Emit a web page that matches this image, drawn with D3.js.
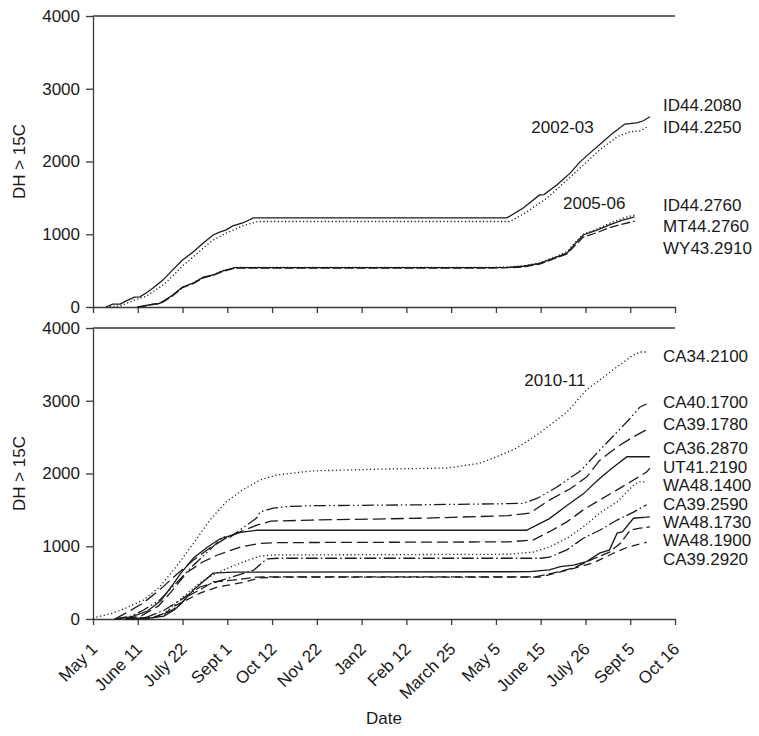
<!DOCTYPE html>
<html>
<head>
<meta charset="utf-8">
<script src="https://cdn.jsdelivr.net/npm/d3@7"></script>
<style>
  body { margin: 0; background: #fff; }
  text { font-family: Arial, "Liberation Sans", sans-serif; fill: #1a1a1a; }
</style>
</head>
<body>
<svg class="chart"></svg>
<script>
// x axis: days since May 1 of the first year, ticks every 41 days
const tickDays = [0, 41, 82, 123, 164, 205, 246, 287, 328, 369, 410, 451, 492, 533];
const tickLabels = ['May 1', 'June 11', 'July 22', 'Sept 1', 'Oct 12', 'Nov 22', 'Jan2',
    'Feb 12', 'March 25', 'May 5', 'June 15', 'July 26', 'Sept 5', 'Oct 16'];
const yTicks = [0, 1000, 2000, 3000, 4000];

// top panel, [day, DH > 15C]
const id44_2080 = [[12,0],[18,40],[25,40],[30,80],[38,135],[43,140],[49,195],[55,260],[64,370],[73,510],
    [82,645],[92,760],[101,880],[110,990],[116,1030],[122,1060],[128,1115],[137,1155],[147,1225],
    [379,1225],[394,1360],[409,1540],[413,1545],[425,1680],[437,1840],[446,1995],[455,2115],
    [467,2270],[476,2390],[487,2515],[498,2530],[504,2560],[510,2615]];
const id44_2250 = [[12,0],[25,15],[38,95],[49,150],[64,300],[73,425],[82,565],[92,690],[101,810],
    [110,920],[122,1015],[137,1115],[151,1175],[382,1175],[397,1305],[416,1500],[434,1745],
    [449,1950],[464,2160],[480,2340],[492,2410],[501,2420],[508,2480]];
const id44_2760 = [[41,0],[46,15],[55,40],[61,50],[66,95],[73,165],[82,275],[92,330],[101,410],
    [110,440],[119,495],[130,540],[364,540],[380,545],[394,560],[409,600],[425,690],[434,740],
    [443,895],[449,990],[462,1060],[473,1130],[485,1195],[496,1240]];
const mt44_2760 = [[41,0],[46,10],[55,35],[61,50],[66,90],[73,160],[82,270],[92,335],[101,405],
    [110,445],[119,500],[130,545],[364,545],[380,550],[394,565],[409,605],[425,700],[434,760],
    [443,910],[449,1000],[462,1075],[473,1150],[485,1220],[496,1265]];
const wy43_2910 = [[41,0],[46,10],[55,35],[61,45],[66,85],[73,155],[82,265],[92,325],[101,400],
    [110,435],[119,490],[130,535],[364,535],[380,540],[394,550],[409,590],[425,680],[434,730],
    [443,870],[449,960],[462,1025],[473,1090],[485,1140],[496,1180]];

// bottom panel, 2010-11
const ca34_2100 = [[0,0],[3,25],[18,80],[30,150],[46,260],[61,440],[76,715],[92,1040],[107,1360],
    [122,1610],[137,1775],[153,1910],[168,1980],[183,2005],[200,2035],[263,2060],[324,2075],
    [354,2140],[373,2250],[388,2350],[409,2555],[434,2845],[452,3150],[464,3285],[480,3465],
    [495,3630],[501,3670],[507,3670]];
const ca40_1700 = [[20,0],[35,40],[46,120],[61,260],[76,490],[92,740],[107,950],[119,1130],[126,1130],
    [137,1250],[150,1390],[153,1470],[165,1525],[177,1545],[200,1557],[300,1570],[380,1585],
    [394,1590],[407,1660],[425,1815],[437,1940],[446,2030],[464,2320],[480,2570],[492,2760],
    [501,2915],[507,2955]];
const ca39_1780 = [[20,0],[30,80],[46,220],[61,400],[76,605],[92,810],[107,975],[122,1115],[137,1210],
    [150,1290],[163,1345],[200,1360],[300,1385],[380,1420],[400,1455],[418,1635],[437,1790],
    [452,1950],[464,2180],[480,2365],[495,2505],[508,2610]];
const ca36_2870 = [[20,0],[35,30],[50,110],[62,250],[72,450],[80,620],[92,840],[105,990],[116,1100],
    [135,1190],[150,1220],[397,1220],[418,1380],[434,1560],[449,1720],[464,1930],[475,2070],
    [489,2230],[510,2230]];
const ut41_2190 = [[30,0],[45,50],[60,180],[72,380],[86,640],[100,780],[114,880],[135,990],[153,1040],
    [170,1050],[380,1060],[403,1085],[418,1200],[434,1335],[449,1500],[464,1635],[480,1775],
    [495,1910],[507,2020],[510,2075]];
const wa48_1400 = [[40,0],[55,20],[65,80],[75,200],[90,400],[100,520],[114,640],[135,770],[153,865],
    [165,880],[380,890],[403,920],[418,990],[434,1110],[449,1265],[464,1455],[480,1610],
    [495,1840],[500,1885],[507,1885]];
const ca39_2590 = [[30,0],[50,30],[65,120],[80,260],[98,440],[128,580],[147,670],[159,825],[170,835],
    [410,835],[418,850],[434,950],[449,1110],[464,1220],[480,1360],[495,1470],[507,1570]];
const wa48_1730 = [[30,0],[50,10],[65,40],[75,130],[85,280],[92,400],[110,630],[128,645],[400,650],
    [418,675],[428,720],[440,740],[452,790],[464,905],[473,950],[480,1180],[485,1200],[495,1385],
    [507,1400],[510,1405]];
const wa48_1900 = [[30,0],[55,20],[70,100],[80,200],[86,305],[100,420],[110,510],[128,535],[150,575],
    [165,580],[405,580],[421,630],[440,700],[458,825],[473,920],[483,1040],[492,1220],[501,1250],
    [510,1265]];
const ca39_2920 = [[30,0],[55,20],[65,60],[73,165],[98,355],[114,440],[135,495],[153,565],[170,575],
    [409,575],[434,670],[458,770],[476,900],[490,990],[507,1055]];

const topSeries = [
    {name: 'ID44.2080', values: id44_2080, dash: null},
    {name: 'ID44.2250', values: id44_2250, dash: '1.2,2.4'},
    {name: 'ID44.2760', values: id44_2760, dash: null},
    {name: 'MT44.2760', values: mt44_2760, dash: '1.2,2.4'},
    {name: 'WY43.2910', values: wy43_2910, dash: '9,3'}
];
const bottomSeries = [
    {name: 'CA34.2100', values: ca34_2100, dash: '1.2,2.6'},
    {name: 'CA40.1700', values: ca40_1700, dash: '12,3,1.5,3,1.5,3'},
    {name: 'CA39.1780', values: ca39_1780, dash: '13,5'},
    {name: 'CA36.2870', values: ca36_2870, dash: null},
    {name: 'UT41.2190', values: ut41_2190, dash: '11,5'},
    {name: 'WA48.1400', values: wa48_1400, dash: '1.2,2.6'},
    {name: 'CA39.2590', values: ca39_2590, dash: '12,3,1.5,3'},
    {name: 'WA48.1730', values: wa48_1730, dash: null},
    {name: 'WA48.1900', values: wa48_1900, dash: '10,4'},
    {name: 'CA39.2920', values: ca39_2920, dash: '8,5'}
];

const WIDTH = 759, HEIGHT = 736;
const LEFT = 93, RIGHT = 675;
const INK = '#1a1a1a', AXIS = '#3a3a3a';

const svg = d3.select('.chart')
    .attr('width', WIDTH)
    .attr('height', HEIGHT);

const x = d3.scaleLinear().domain([0, 533]).range([LEFT, RIGHT]);

function drawPanel(top, bottom, series, showLabels) {
    const y = d3.scaleLinear().domain([0, 4000]).range([bottom, top]);
    const g = svg.append('g');

    // top border
    g.append('line')
        .attr('x1', LEFT).attr('x2', RIGHT)
        .attr('y1', y(4000)).attr('y2', y(4000))
        .attr('stroke', AXIS).attr('stroke-width', 1.3);

    const yAxis = g.append('g')
        .attr('transform', `translate(${LEFT},0)`)
        .call(d3.axisLeft(y).tickValues(yTicks).tickSize(7).tickSizeOuter(0).tickPadding(6)
            .tickFormat(d3.format('d')));
    yAxis.selectAll('text').style('font-size', '17px').attr('fill', INK);

    const xAxis = g.append('g')
        .attr('transform', `translate(0,${bottom})`)
        .call(d3.axisBottom(x).tickValues(tickDays).tickSize(6).tickSizeOuter(0)
            .tickFormat((d, i) => tickLabels[i]));
    if (showLabels) {
        xAxis.selectAll('text')
            .style('font-size', '17px')
            .attr('fill', INK)
            .attr('text-anchor', 'end')
            .attr('dy', null)
            .attr('y', 0)
            .attr('transform', 'translate(5,31) rotate(-45)');
    } else {
        xAxis.selectAll('text').remove();
    }
    g.selectAll('.domain, .tick line').attr('stroke', AXIS).attr('stroke-width', 1.3);

    const line = d3.line().x(d => x(d[0])).y(d => y(d[1]));
    g.selectAll('path.series')
        .data(series)
        .join('path')
        .attr('class', 'series')
        .attr('d', d => line(d.values))
        .attr('fill', 'none')
        .attr('stroke', INK)
        .attr('stroke-width', 1.3)
        .attr('stroke-dasharray', d => d.dash);

    g.append('text')
        .attr('transform', `translate(19,${(top + bottom) / 2}) rotate(-90)`)
        .attr('text-anchor', 'middle')
        .attr('dy', '0.35em')
        .style('font-size', '17px')
        .text('DH > 15C');
    return y;
}

const yTop = drawPanel(16, 307, topSeries, false);
const yBottom = drawPanel(328, 619, bottomSeries, true);

// series names at the right margin, centred on these DH levels
const topLabelAt = [2777, 2474, 1402, 1113, 811];
const bottomLabelAt = [3615, 2987, 2680, 2350, 2090, 1842, 1580, 1333, 1086, 825];

function seriesLabels(series, levels, y) {
    svg.append('g').selectAll('text')
        .data(series)
        .join('text')
        .attr('x', 663)
        .attr('y', (d, i) => y(levels[i]))
        .attr('dy', '0.35em')
        .style('font-size', '17px')
        .text(d => d.name);
}
seriesLabels(topSeries, topLabelAt, yTop);
seriesLabels(bottomSeries, bottomLabelAt, yBottom);

// season labels
const seasons = [
    {text: '2002-03', day: 430, dh: 2474, y: yTop},
    {text: '2005-06', day: 459, dh: 1430, y: yTop},
    {text: '2010-11', day: 423, dh: 3285, y: yBottom}
];
svg.append('g').selectAll('text')
    .data(seasons)
    .join('text')
    .attr('x', d => x(d.day))
    .attr('y', d => d.y(d.dh))
    .attr('dy', '0.35em')
    .attr('text-anchor', 'middle')
    .style('font-size', '17px')
    .text(d => d.text);

svg.append('text')
    .attr('x', (LEFT + RIGHT) / 2)
    .attr('y', 718)
    .attr('dy', '0.35em')
    .attr('text-anchor', 'middle')
    .style('font-size', '17px')
    .text('Date');
</script>
</body>
</html>
